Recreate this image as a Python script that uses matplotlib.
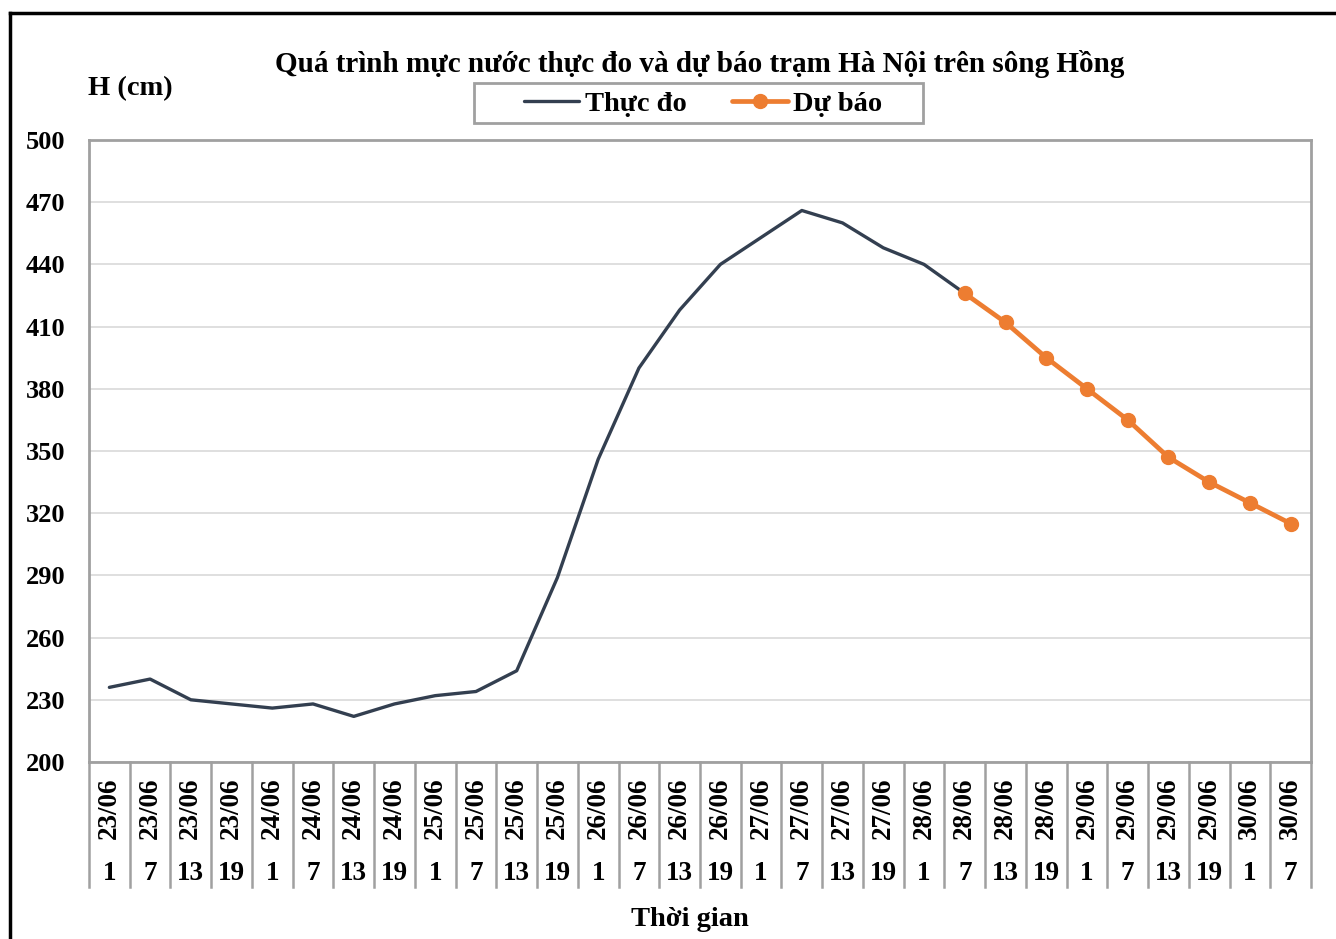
import matplotlib
matplotlib.use("Agg")
import matplotlib.pyplot as plt
from matplotlib.lines import Line2D
from matplotlib.patches import Rectangle
import matplotlib.transforms as mtransforms

plt.rcParams['font.family'] = ['Liberation Serif', 'DejaVu Serif']
plt.rcParams['font.weight'] = 'bold'

dates = ["23/06"] * 4 + ["24/06"] * 4 + ["25/06"] * 4 + ["26/06"] * 4 + \
        ["27/06"] * 4 + ["28/06"] * 4 + ["29/06"] * 4 + ["30/06"] * 2
hours = ["1", "7", "13", "19"] * 7 + ["1", "7"]

observed = [236, 240, 230, 228, 226, 228, 222, 228, 232, 234, 244, 289,
            346, 390, 418, 440, 453, 466, 460, 448, 440, 426]
forecast = [426, 412, 395, 380, 365, 347, 335, 325, 315]
forecast_start = 21

title = "Quá trình mực nước thực đo và dự báo trạm Hà Nội trên sông Hồng"
W, H = 1336, 939
fig = plt.figure(figsize=(W / 100, H / 100), dpi=100)

L, R, T, B = 89, 1311, 140, 762
ax = fig.add_axes([L / W, 1 - B / H, (R - L) / W, (B - T) / H])

n = len(dates)
x_obs = list(range(len(observed)))
x_fc = list(range(forecast_start, forecast_start + len(forecast)))

ax.plot(x_obs, observed, color="#333F50", lw=2.4, solid_capstyle='round',
        solid_joinstyle='round', label="Thực đo", zorder=3)
ax.plot(x_fc, forecast, color="#ED7D31", lw=3.4, marker='o', ms=10,
        solid_capstyle='round', label="Dự báo", zorder=4)

ax.set_xlim(-0.5, n - 0.5)
ax.set_ylim(200, 500)
ax.set_yticks(range(200, 501, 30))
ax.set_yticklabels([str(v) for v in range(200, 501, 30)], fontsize=19, fontweight='bold')
ax.tick_params(axis='y', length=0, pad=17)
ax.set_xticks([])
ax.grid(axis='y', color="#D9D9D9", lw=1.2)
ax.set_axisbelow(True)
for s in ax.spines.values():
    s.set_color("#A0A0A0")
    s.set_linewidth(2)

trans = mtransforms.blended_transform_factory(ax.transData, ax.transAxes)
ax_h = B - T
bottom_line = -(887 - B) / ax_h
for i in range(n + 1):
    ax.add_line(Line2D([i - 0.5, i - 0.5], [0, bottom_line], transform=trans,
                       color="#A0A0A0", lw=1.8, clip_on=False))
for i in range(n):
    ax.text(i, -(808 - B) / ax_h, dates[i], transform=trans, rotation=90,
            ha='center', va='center', fontsize=19.5, fontweight='bold')
    ax.text(i, -(874 - B) / ax_h, hours[i], transform=trans,
            ha='center', va='center', fontsize=19.5, fontweight='bold')

fig.text(700 / W, 1 - 64 / H, title, ha='center', va='center', fontsize=21, fontweight='bold')
fig.text(130 / W, 1 - 89 / H, "H (cm)", ha='center', va='center', fontsize=20.5, fontweight='bold')
fig.text(690 / W, 1 - 920 / H, "Thời gian", ha='center', va='center', fontsize=20.5, fontweight='bold')

# legend frame drawn separately
fig.add_artist(Rectangle((474 / W, 1 - 123 / H), (923 - 474) / W, 40 / H,
                         transform=fig.transFigure, facecolor='white',
                         edgecolor="#A0A0A0", lw=2, zorder=5))
leg = fig.legend(loc='center', bbox_to_anchor=(703 / W, 1 - 104 / H), ncol=2,
                 frameon=False,
                 prop={'family': ['Liberation Serif'], 'weight': 'bold', 'size': 20.5},
                 handlelength=1.95, handletextpad=0.2, columnspacing=1.6,
                 borderpad=0.1, borderaxespad=0)
leg.set_zorder(6)

# outer frame (left and top edges visible)
fig.add_artist(Line2D([10 / W, 10 / W], [0, 1 - 13 / H], transform=fig.transFigure,
                      color="black", lw=2.5))
fig.add_artist(Line2D([10 / W, 1], [1 - 13 / H, 1 - 13 / H], transform=fig.transFigure,
                      color="black", lw=2.5))

fig.savefig("out.png", dpi=100)
